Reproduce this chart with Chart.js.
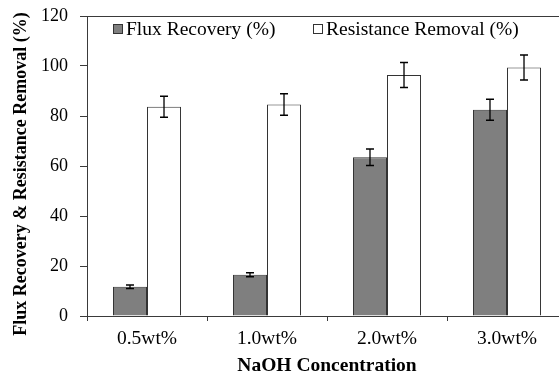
<!DOCTYPE html>
<html>
<head>
<meta charset="utf-8">
<script src="https://cdn.jsdelivr.net/npm/chart.js@4/dist/chart.umd.min.js"></script>
<style>
  html, body { margin: 0; padding: 0; background: #fff; overflow: hidden; }
  #wrap { width: 580px; height: 381px; position: relative; }
</style>
</head>
<body>
<div id="wrap"><canvas id="c"></canvas></div>
<script>
// NaOH cleaning results
const categories = ['0.5wt%', '1.0wt%', '2.0wt%', '3.0wt%'];
const fluxRecovery = [11.7, 16.5, 63.5, 82.5];
const fluxRecoveryErr = [0.7, 0.8, 3.3, 4.2];
const resistanceRemoval = [83.7, 84.6, 96.4, 99.4];
const resistanceRemovalErr = [4.2, 4.3, 5.0, 5.0];
const yTicks = [0, 20, 40, 60, 80, 100, 120];
const yTitle = 'Flux Recovery & Resistance Removal (%)';

const SERIF = '"Liberation Serif", "Times New Roman", serif';
const AXIS = '#3a3a3a';

// vertical error bars with caps, drawn through the value scale
const errorBars = {
  id: 'errorBars',
  afterDatasetsDraw(chart) {
    const { ctx } = chart;
    const y = chart.scales.y;
    chart.data.datasets.forEach((ds, i) => {
      const meta = chart.getDatasetMeta(i);
      meta.data.forEach((bar, j) => {
        const v = ds.data[j], e = ds.errors[j];
        const top = y.getPixelForValue(v + e);
        const bot = y.getPixelForValue(v - e);
        const half = 4;
        ctx.save();
        ctx.strokeStyle = '#000';
        ctx.lineWidth = 1.3;
        ctx.beginPath();
        ctx.moveTo(bar.x, top); ctx.lineTo(bar.x, bot);
        ctx.moveTo(bar.x - half, top); ctx.lineTo(bar.x + half, top);
        ctx.moveTo(bar.x - half, bot); ctx.lineTo(bar.x + half, bot);
        ctx.stroke();
        ctx.restore();
      });
    });
  }
};

// top frame line, in-plot legend and the rotated value-axis title
const frameAndLegend = {
  id: 'frameAndLegend',
  afterDraw(chart) {
    const { ctx, chartArea: a } = chart;
    ctx.save();
    ctx.strokeStyle = AXIS;
    ctx.lineWidth = 1;
    ctx.beginPath();
    ctx.moveTo(a.left - 7, a.top + 0.5);
    ctx.lineTo(a.right, a.top + 0.5);
    ctx.stroke();

    ctx.font = '19.5px ' + SERIF;
    ctx.textBaseline = 'middle';
    const cy = a.top + 13;
    const starts = [a.left + 26, a.left + 226];
    chart.data.datasets.forEach((ds, i) => {
      const x = starts[i];
      ctx.fillStyle = ds.backgroundColor;
      ctx.fillRect(x + 0.5, cy - 4.5, 9, 9);
      ctx.strokeStyle = ds.borderColor;
      ctx.strokeRect(x + 0.5, cy - 4.5, 9, 9);
      ctx.fillStyle = '#000';
      ctx.fillText(ds.label, x + 13, cy + 1);
    });

    ctx.translate(26, (a.top + a.bottom) / 2 + 8);
    ctx.rotate(-Math.PI / 2);
    ctx.font = 'bold 18px ' + SERIF;
    ctx.textAlign = 'center';
    ctx.textBaseline = 'alphabetic';
    ctx.fillStyle = '#000';
    ctx.fillText(yTitle, 0, 0);
    ctx.restore();
  }
};

new Chart(document.getElementById('c'), {
  type: 'bar',
  data: {
    labels: categories,
    datasets: [
      {
        label: 'Flux Recovery (%)',
        data: fluxRecovery,
        errors: fluxRecoveryErr,
        backgroundColor: '#7f7f7f',
        borderColor: '#333333',
        borderWidth: 1
      },
      {
        label: 'Resistance Removal (%)',
        data: resistanceRemoval,
        errors: resistanceRemovalErr,
        backgroundColor: '#ffffff',
        borderColor: '#333333',
        borderWidth: 1
      }
    ]
  },
  options: {
    responsive: true,
    maintainAspectRatio: false,
    animation: false,
    layout: { padding: { top: 16, right: 13, left: 0, bottom: 0 } },
    datasets: { bar: { categoryPercentage: 0.567, barPercentage: 1.0 } },
    plugins: { legend: { display: false }, tooltip: { enabled: false } },
    scales: {
      x: {
        grid: { display: true, drawOnChartArea: false, offset: true, tickLength: 5, color: AXIS },
        border: { color: AXIS, width: 1 },
        ticks: { color: '#000', font: { family: SERIF, size: 19.5 }, padding: 6, maxRotation: 0 },
        title: {
          display: true, text: 'NaOH Concentration', color: '#000',
          font: { family: SERIF, size: 19.5, weight: 'bold' }, padding: { top: 0, bottom: 3 }
        },
        afterFit(s) { s.height = 65; }
      },
      y: {
        min: 0, max: 120,
        afterBuildTicks(s) { s.ticks = yTicks.map(v => ({ value: v })); },
        grid: { display: true, drawOnChartArea: false, tickLength: 7, color: AXIS },
        border: { color: AXIS, width: 1 },
        ticks: { color: '#000', font: { family: SERIF, size: 18 }, padding: 12 },
        afterFit(s) { s.width = 87; s.paddingTop = 0; s.paddingBottom = 0; }
      }
    }
  },
  plugins: [errorBars, frameAndLegend]
});
</script>
</body>
</html>
